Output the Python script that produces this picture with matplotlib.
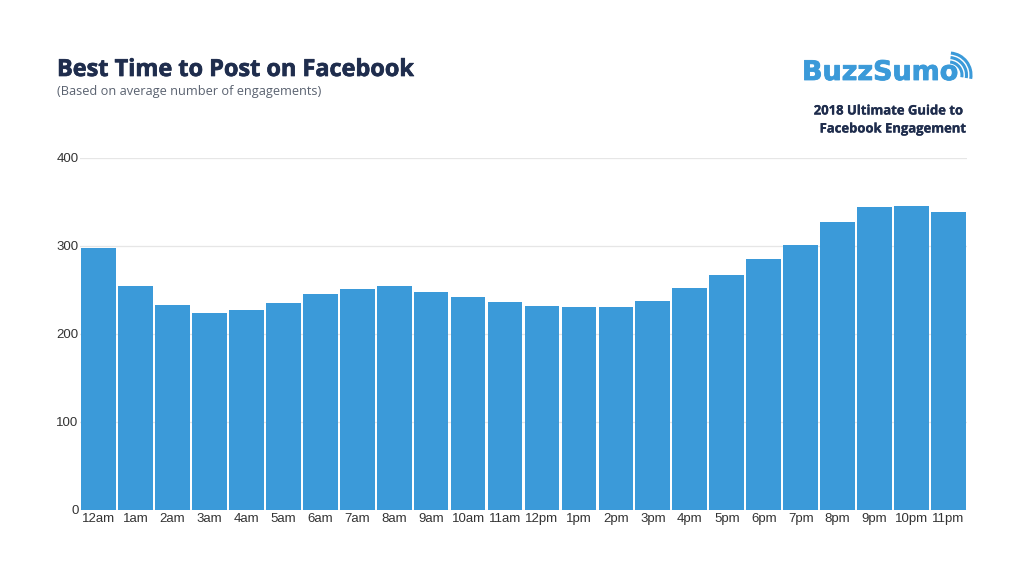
import matplotlib
matplotlib.use('Agg')
import matplotlib.pyplot as plt
import matplotlib.patheffects as pe
from matplotlib.patches import Arc

hours = ['12am', '1am', '2am', '3am', '4am', '5am', '6am', '7am', '8am', '9am', '10am', '11am',
         '12pm', '1pm', '2pm', '3pm', '4pm', '5pm', '6pm', '7pm', '8pm', '9pm', '10pm', '11pm']
engagements = [298, 254, 233, 224, 227, 235, 245, 251, 254, 248, 242, 236,
               232, 231, 231, 238, 252, 267, 285, 301, 327, 344, 346, 339]
y_ticks = [0, 100, 200, 300, 400]

W, H = 1024, 576
BLUE = '#3b9ad9'
NAVY = '#1f2d4d'

plt.rcParams['font.family'] = ['Liberation Sans', 'DejaVu Sans']
fig = plt.figure(figsize=(W / 100, H / 100), dpi=100, facecolor='white')

# plot area in pixels: x 80-967, y 158-510
ax = fig.add_axes([80 / W, 1 - 510 / H, 887 / W, 352 / H])
x = range(len(hours))
ax.bar(x, engagements, width=0.94, color=BLUE, zorder=3)
ax.set_xlim(-0.5, 23.5)
ax.set_ylim(0, 400)
ax.set_xticks(list(x))
ax.set_xticklabels(hours)
ax.set_yticks(y_ticks)
ax.tick_params(axis='both', length=0, labelsize=9.5, labelcolor='#333333')
ax.tick_params(axis='x', pad=2)
ax.tick_params(axis='y', pad=1)
ax.grid(axis='y', color='#e6e6e6', linewidth=0.9, zorder=0)
ax.set_axisbelow(True)
ax.spines[['top', 'right', 'left', 'bottom']].set_visible(False)

# heavier look than plain bold
heavy = [pe.withStroke(linewidth=0.5, foreground=NAVY)]
light_heavy = [pe.withStroke(linewidth=0.2, foreground=NAVY)]

# titles
fig.text(57 / W, 1 - 70 / H, 'Best Time to Post on Facebook', family='Open Sans',
         weight='bold', fontsize=16.9, color=NAVY, va='center', ha='left', path_effects=heavy)
fig.text(57 / W, 1 - 91 / H, '(Based on average number of engagements)', family='Open Sans',
         fontsize=9.15, color='#5a6270', va='center', ha='left')

# logo and source note
fig.text(802 / W, 1 - 73 / H, 'BuzzSumo', family='DejaVu Sans', weight='bold', fontsize=19.4,
         color=BLUE, va='center', ha='left',
         path_effects=[pe.withStroke(linewidth=0.6, foreground=BLUE)])
fig.text(966 / W, 1 - 111 / H, '2018 Ultimate Guide to ', family='Open Sans', weight='bold',
         fontsize=9.4, color=NAVY, va='center', ha='right', path_effects=light_heavy)
fig.text(966 / W, 1 - 129 / H, 'Facebook Engagement', family='Open Sans', weight='bold',
         fontsize=9.4, color=NAVY, va='center', ha='right', path_effects=light_heavy)

# wifi arcs on the logo
overlay = fig.add_axes([0, 0, 1, 1], facecolor='none')
overlay.set_xlim(0, W)
overlay.set_ylim(H, 0)
overlay.axis('off')
for d in [26, 35, 44]:
    overlay.add_patch(Arc((949, 75), d, d, theta1=-85, theta2=10, color=BLUE, linewidth=2.2))

fig.savefig('out.png', dpi=100)
